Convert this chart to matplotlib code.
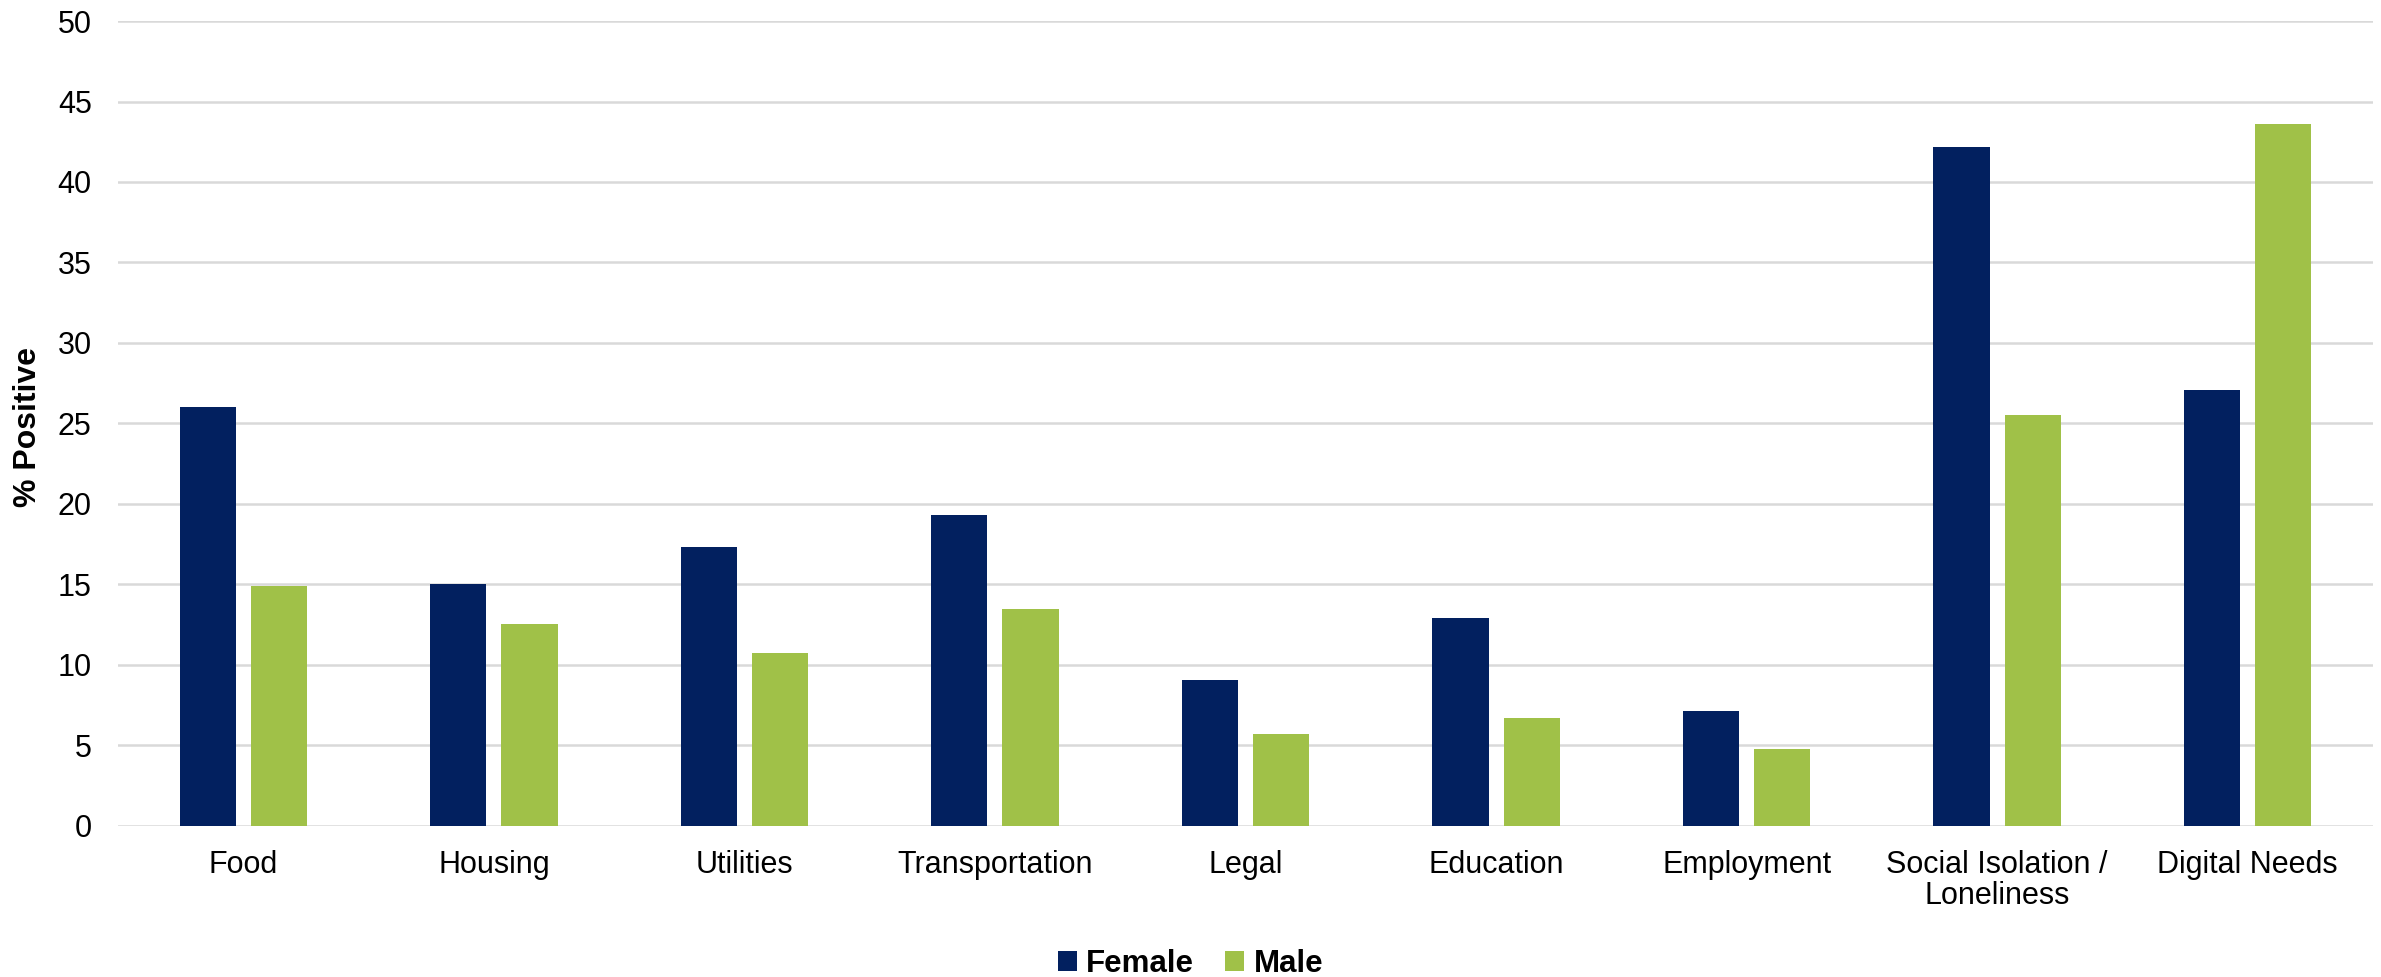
import numpy as np
import matplotlib.pyplot as plt

categories = ['Food', 'Housing', 'Utilities', 'Transportation', 'Legal',
              'Education', 'Employment', 'Social Isolation /\nLoneliness',
              'Digital Needs']
female = [26.0, 15.0, 17.3, 19.3, 9.05, 12.9, 7.15, 42.2, 27.05]
male = [14.9, 12.55, 10.75, 13.5, 5.7, 6.7, 4.8, 25.5, 43.6]
yticks = [0, 5, 10, 15, 20, 25, 30, 35, 40, 45, 50]

plt.rcParams['font.family'] = ['Liberation Sans', 'DejaVu Sans']

fig = plt.figure(figsize=(23.81, 9.77), dpi=100)
ax = fig.add_axes([0.0496, 0.1546, 0.947, 0.8239])

x = np.arange(len(categories))
w = 0.224
off = 0.142
ax.bar(x - off, female, w, color='#02205F', label='Female', zorder=3)
ax.bar(x + off, male, w, color='#A0C148', label='Male', zorder=3)

ax.set_xlim(-0.5, len(categories) - 0.5)
ax.set_ylim(0, 50)
ax.set_yticks(yticks)
ax.set_xticks(x)
ax.set_xticklabels(categories, fontsize=22, linespacing=1.05)
ax.tick_params(axis='y', labelsize=22, length=0, pad=19)
ax.tick_params(axis='x', length=0, pad=17)
ax.yaxis.grid(True, color='#D9D9D9', linewidth=1.8, zorder=0)
for s in ax.spines.values():
    s.set_visible(False)

fig.text(28 / 2381, 0.563, '% Positive', rotation=90, ha='center', va='center',
         fontsize=23, fontweight='bold')

fig.legend(loc='lower center', bbox_to_anchor=(0.5, -0.031), ncol=2,
           frameon=False, handlelength=0.6, handleheight=0.6,
           handletextpad=0.3, columnspacing=1.0,
           prop={'size': 22.5, 'weight': 'bold'})

fig.savefig('out.png', dpi=100)
